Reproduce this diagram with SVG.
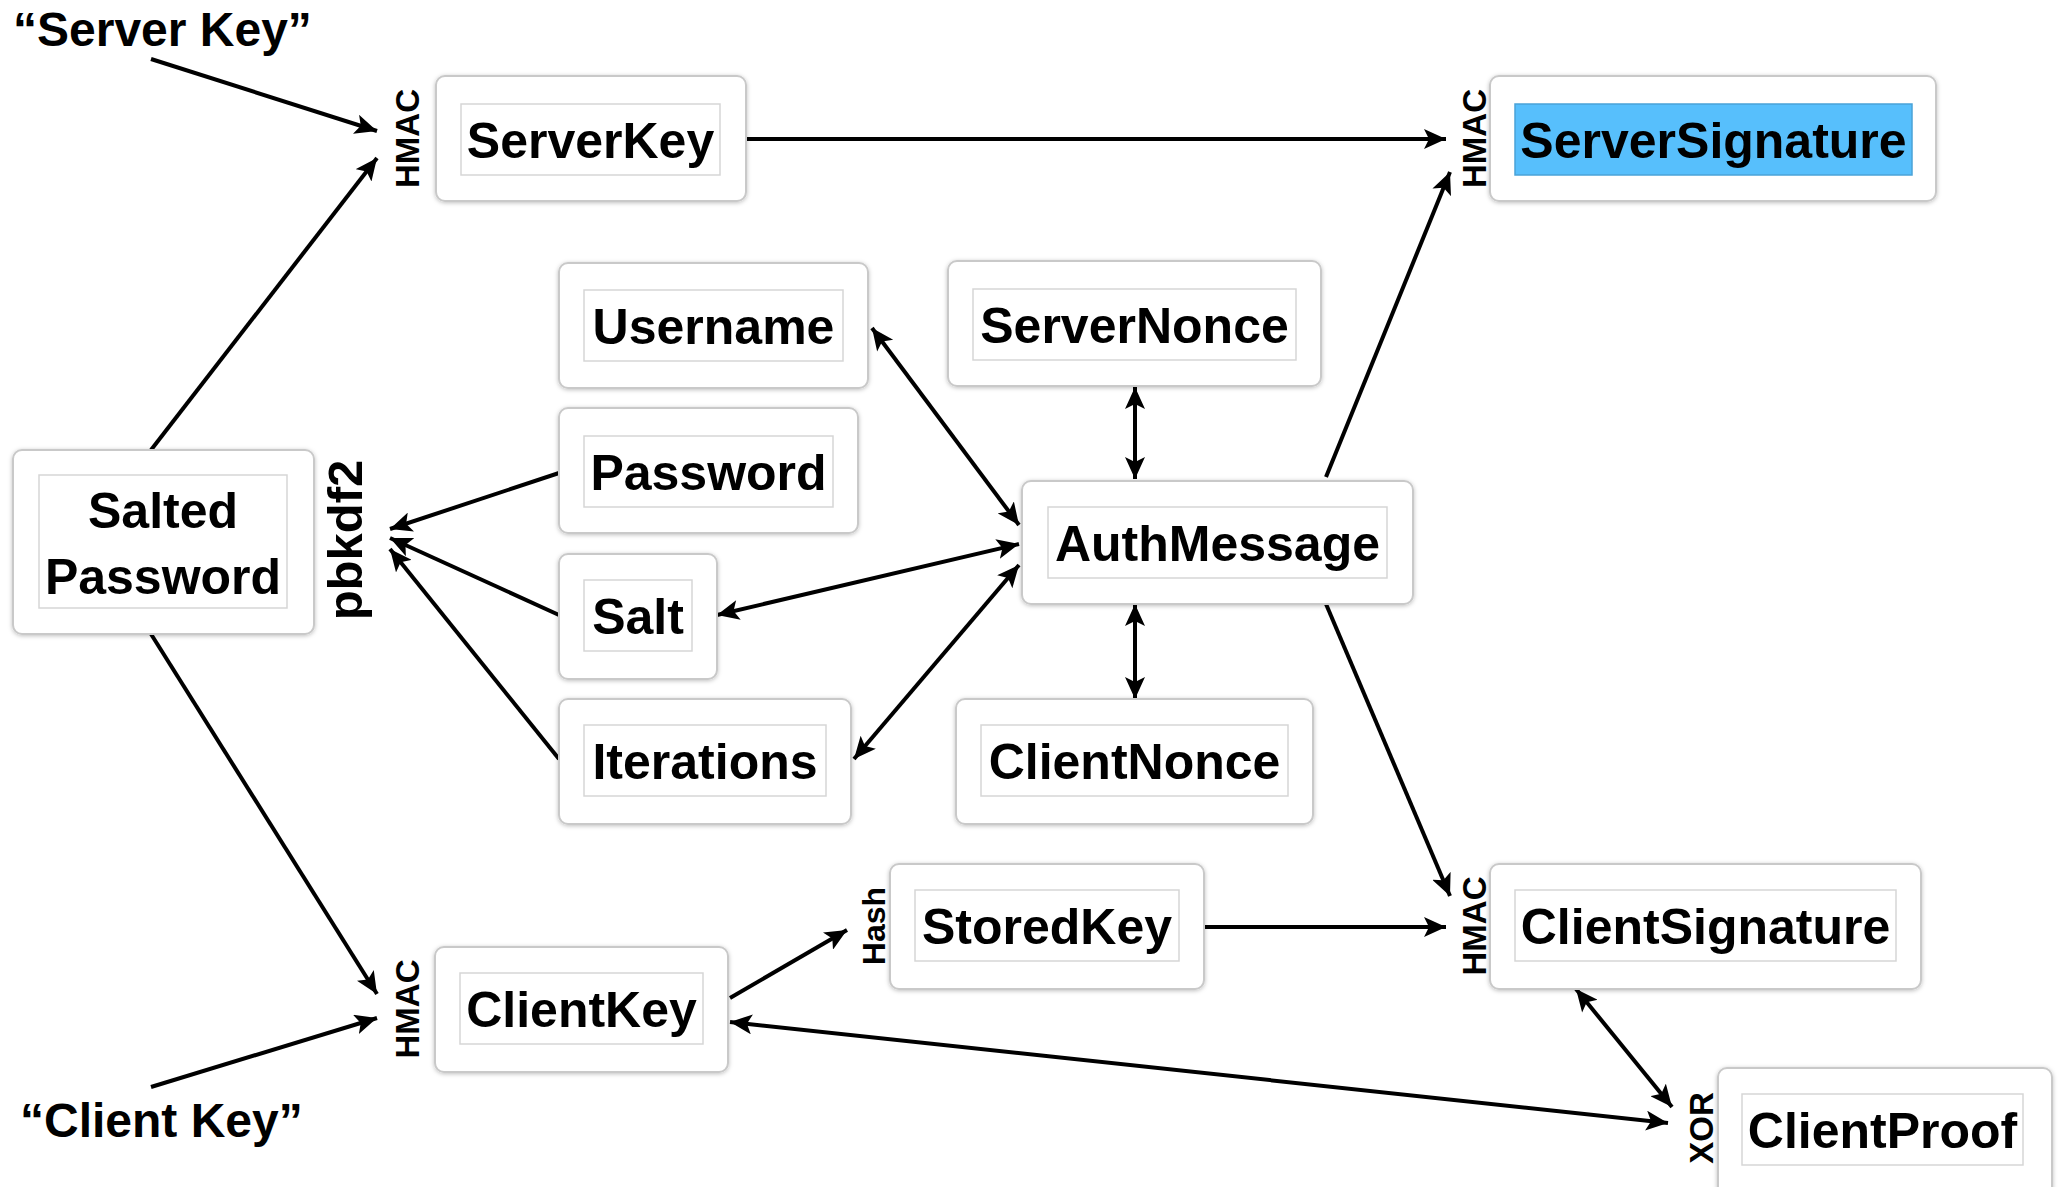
<svg xmlns="http://www.w3.org/2000/svg" width="2059" height="1187" viewBox="0 0 2059 1187">
<style>
.outer{fill:#fff;stroke:#c9c9c9;stroke-width:2;filter:url(#sh)}
.inner{fill:#fff;stroke:#d6d6d6;stroke-width:1.5}
.blue{fill:#57bffc;stroke:#4aa3d8;stroke-width:1.5}
.t{font-family:"Liberation Sans",Arial,sans-serif;font-weight:bold;font-size:50px;fill:#000;text-anchor:middle}
.lbl{font-family:"Liberation Sans",Arial,sans-serif;font-weight:bold;font-size:48px;fill:#000}
.op{font-family:"Liberation Sans",Arial,sans-serif;font-weight:bold;font-size:33px;fill:#000;text-anchor:middle}
.c{stroke:#000;stroke-width:4;fill:none;marker-end:url(#ah)}
.d{marker-start:url(#ahs)}
</style>
<defs>
<filter id="sh" x="-10%" y="-10%" width="120%" height="130%">
<feDropShadow dx="0" dy="1" stdDeviation="2" flood-color="#000" flood-opacity="0.25"/>
</filter>
<marker id="ah" markerUnits="userSpaceOnUse" markerWidth="24" markerHeight="20" refX="22" refY="10" orient="auto">
<path d="M0,0 L22,10 L0,20 L5,10 Z" fill="#000"/>
</marker>
<marker id="ahs" markerUnits="userSpaceOnUse" markerWidth="24" markerHeight="20" refX="0" refY="10" orient="auto">
<path d="M22,0 L0,10 L22,20 L17,10 Z" fill="#000"/>
</marker>
</defs>
<rect width="2059" height="1187" fill="#fff"/>

<g id="connectors">
<line class="c" x1="151" y1="59" x2="377" y2="131"/>
<line class="c" x1="151" y1="450" x2="377" y2="158"/>
<line class="c" x1="746" y1="139" x2="1446" y2="139"/>
<line class="c" x1="1326" y1="477" x2="1450" y2="172"/>
<line class="c d" x1="872" y1="328" x2="1019" y2="525"/>
<line class="c d" x1="1135" y1="387" x2="1135" y2="479"/>
<line class="c" x1="559" y1="473" x2="390" y2="529"/>
<line class="c" x1="559" y1="615" x2="390" y2="538"/>
<line class="c" x1="559" y1="759" x2="390" y2="549"/>
<line class="c d" x1="717" y1="615" x2="1019" y2="544"/>
<line class="c d" x1="854" y1="759" x2="1019" y2="565"/>
<line class="c d" x1="1135" y1="604" x2="1135" y2="699"/>
<line class="c" x1="1326" y1="604" x2="1450" y2="896"/>
<line class="c" x1="151" y1="634" x2="377" y2="994"/>
<line class="c" x1="151" y1="1087" x2="377" y2="1018"/>
<line class="c" x1="730" y1="998" x2="847" y2="930"/>
<line class="c" x1="1204" y1="927" x2="1446" y2="927"/>
<line class="c d" x1="1576" y1="989" x2="1672" y2="1107"/>
<line class="c d" x1="730" y1="1022" x2="1668" y2="1123"/>
</g>

<g id="label-server-key"><text class="lbl" x="13" y="46">“Server Key”</text></g>
<g id="label-client-key"><text class="lbl" x="20" y="1137">“Client Key”</text></g>

<g id="ServerKey">
<rect class="outer" x="436" y="76" width="310" height="125" rx="9"/>
<rect class="inner" x="461" y="104" width="259" height="71"/>
<text class="t" x="590.5" y="157.5">ServerKey</text>
<text class="op" transform="translate(419,138.5) rotate(-90)">HMAC</text>
</g>

<g id="ServerSignature">
<rect class="outer" x="1490" y="76" width="446" height="125" rx="9"/>
<rect class="blue" x="1515" y="104" width="397" height="71"/>
<text class="t" x="1713.5" y="157.5">ServerSignature</text>
<text class="op" transform="translate(1486,138.5) rotate(-90)">HMAC</text>
</g>

<g id="Username">
<rect class="outer" x="559" y="263" width="309" height="125" rx="9"/>
<rect class="inner" x="584" y="290" width="259" height="71"/>
<text class="t" x="713.5" y="343.5">Username</text>
</g>

<g id="ServerNonce">
<rect class="outer" x="948" y="261" width="373" height="125" rx="9"/>
<rect class="inner" x="973" y="289" width="323" height="71"/>
<text class="t" x="1134.5" y="342.5">ServerNonce</text>
</g>

<g id="Password">
<rect class="outer" x="559" y="408" width="299" height="125" rx="9"/>
<rect class="inner" x="584" y="436" width="249" height="71"/>
<text class="t" x="708.5" y="489.5">Password</text>
</g>

<g id="SaltedPassword">
<rect class="outer" x="13" y="450" width="301" height="184" rx="9"/>
<rect class="inner" x="39" y="475" width="248" height="133"/>
<text class="t" x="163" y="528">Salted</text>
<text class="t" x="163" y="594">Password</text>
<text class="op" style="font-size:49px" transform="translate(362,540) rotate(-90)">pbkdf2</text>
</g>

<g id="AuthMessage">
<rect class="outer" x="1022" y="481" width="391" height="123" rx="9"/>
<rect class="inner" x="1048" y="507" width="339" height="71"/>
<text class="t" x="1217.5" y="560.5">AuthMessage</text>
</g>

<g id="Salt">
<rect class="outer" x="559" y="554" width="158" height="125" rx="9"/>
<rect class="inner" x="584" y="580" width="108" height="71"/>
<text class="t" x="638" y="633.5">Salt</text>
</g>

<g id="Iterations">
<rect class="outer" x="559" y="699" width="292" height="125" rx="9"/>
<rect class="inner" x="584" y="725" width="242" height="71"/>
<text class="t" x="705" y="778.5">Iterations</text>
</g>

<g id="ClientNonce">
<rect class="outer" x="956" y="699" width="357" height="125" rx="9"/>
<rect class="inner" x="981" y="725" width="307" height="71"/>
<text class="t" x="1134.5" y="778.5">ClientNonce</text>
</g>

<g id="StoredKey">
<rect class="outer" x="890" y="864" width="314" height="125" rx="9"/>
<rect class="inner" x="915" y="890" width="264" height="71"/>
<text class="t" x="1047" y="943.5">StoredKey</text>
<text class="op" style="font-size:32px" transform="translate(885,926) rotate(-90)">Hash</text>
</g>

<g id="ClientSignature">
<rect class="outer" x="1490" y="864" width="431" height="125" rx="9"/>
<rect class="inner" x="1515" y="890" width="381" height="71"/>
<text class="t" x="1705.5" y="943.5">ClientSignature</text>
<text class="op" transform="translate(1486,926) rotate(-90)">HMAC</text>
</g>

<g id="ClientKey">
<rect class="outer" x="435" y="947" width="293" height="125" rx="9"/>
<rect class="inner" x="460" y="973" width="243" height="71"/>
<text class="t" x="581.5" y="1026.5">ClientKey</text>
<text class="op" transform="translate(419,1009) rotate(-90)">HMAC</text>
</g>

<g id="ClientProof">
<rect class="outer" x="1718" y="1068" width="334" height="130" rx="9"/>
<rect class="inner" x="1742" y="1094" width="281" height="71"/>
<text class="t" x="1882.5" y="1147.5">ClientProof</text>
<text class="op" transform="translate(1713,1128) rotate(-90)">XOR</text>
</g>
</svg>
